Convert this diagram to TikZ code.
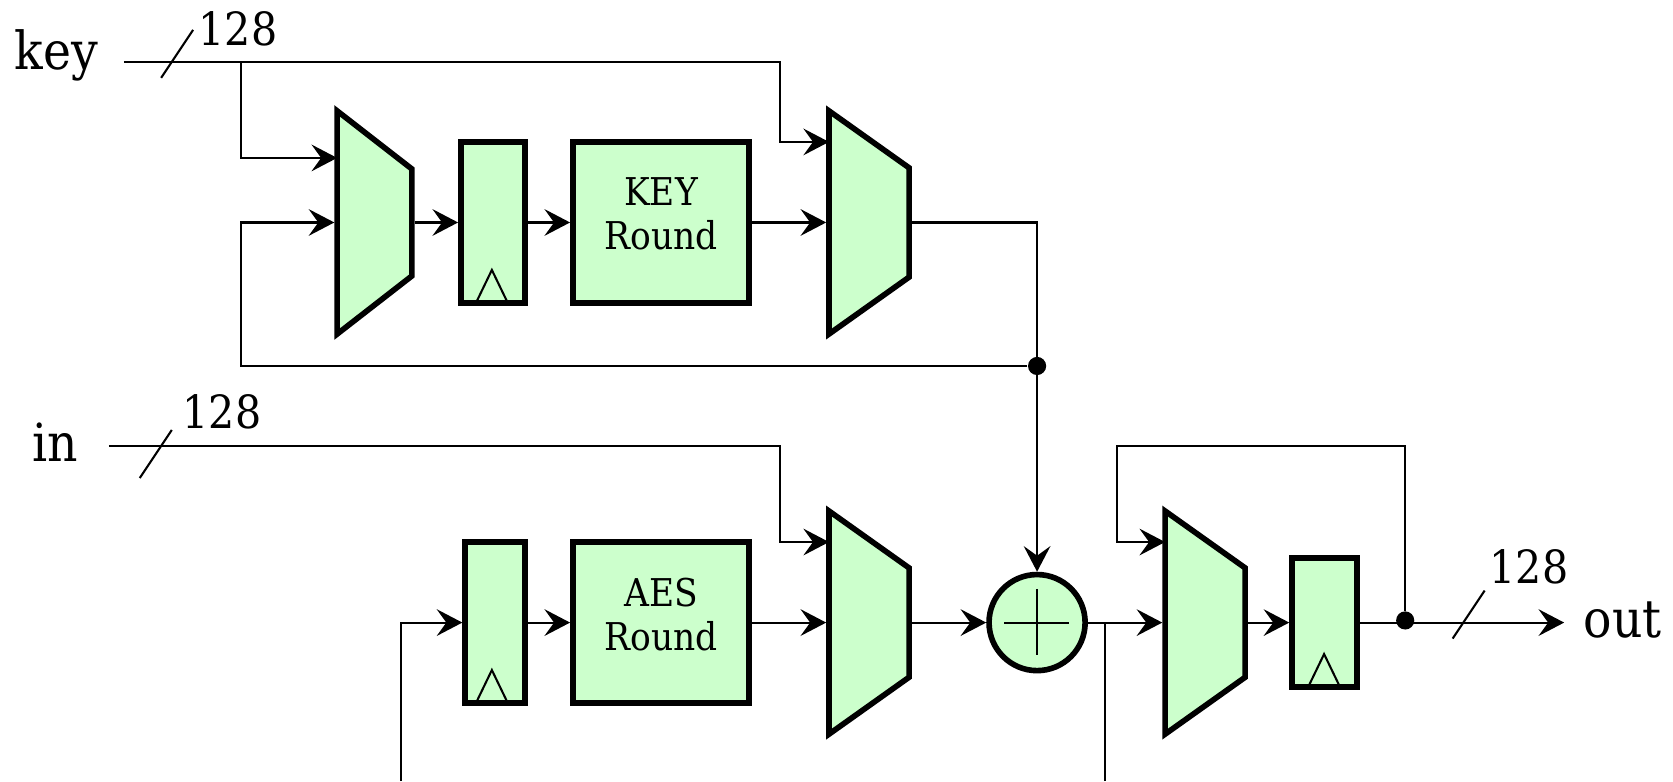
\documentclass[tikz,border=0pt]{standalone}
\usepackage{amsmath}
\usepackage{fontspec}
\setmainfont{DejaVu Serif Condensed}
\usetikzlibrary{shapes.geometric}
\usetikzlibrary{arrows.meta}

\definecolor{boxgreen}{HTML}{CCFFCC}

\tikzset{
  block/.style = {draw, fill=boxgreen, line width=1.5pt, rectangle, inner sep=0pt, align=center, text depth=0.16cm,
                  font=\fontsize{10.2}{11.7}\selectfont},
  muxa/.style = {draw, fill=boxgreen, line width=1.5pt, trapezium, trapezium stretches=true, shape border rotate=270,
                 trapezium angle=61.5, minimum width=2.09cm, minimum height=0.70cm, inner sep=1pt},
  muxb/.style = {muxa, trapezium angle=62.5, minimum height=0.75cm},
  addr/.style = {draw, fill=boxgreen, line width=1.5pt, circle, minimum size=0.90cm, inner sep=0pt},
  dot/.style = {fill=black, circle, minimum size=0.17cm, inner sep=0pt},
  biglabel/.style = {font=\fontsize{14}{16}\selectfont, inner sep=0pt},
  widthlabel/.style = {font=\fontsize{12.2}{15}\selectfont, inner sep=0pt},
  wire/.style = {line width=0.55pt},
  arr/.style = {wire, arrows = -{Stealth[length=2.4mm,width=2.5mm,inset=0.9mm]}}
}

\begin{document}
\begin{tikzpicture}[x=0.01cm,y=-0.01cm]

    \useasboundingbox (0,0) rectangle (1568,732);

    %\draw [help lines] (0,0) grid (1568,732);

    \path   (351,208.5) node (muxk) [muxa] {}
            (462,208.5) node (regk) [block,minimum width=0.60cm,minimum height=1.51cm] {}
            (619.5,208.5) node (keyround) [block,minimum width=1.65cm,minimum height=1.51cm] {KEY\\Round}
            (814.5,208.5) node (muxs) [muxb] {}
            (464,583.5) node (rega) [block,minimum width=0.56cm,minimum height=1.51cm] {}
            (619.5,583.5) node (aesround) [block,minimum width=1.65cm,minimum height=1.51cm] {AES\\Round}
            (814.5,583.5) node (muxi) [muxb] {}
            (972,583.5) node (xor) [addr] {}
            (1129.5,583.5) node (muxo) [muxb] {}
            (1241.5,583.5) node (rego) [block,minimum width=0.61cm,minimum height=1.21cm] {}
            (972,343) node (dotk) [dot] {}
            (1317,581.5) node (doto) [dot] {};

    \path   (53,52) node (keylabel) [biglabel] {key}
            (52,414) node (inlabel) [biglabel] {in}
            (1521,581) node (outlabel) [biglabel] {out}
            (223,27) node (widthk) [widthlabel] {128}
            (208,386) node (widthi) [widthlabel] {128}
            (1433,531) node (widtho) [widthlabel] {128};

    \coordinate (keyin) at (116,58);
    \coordinate (datain) at (102,418);
    \coordinate (dataout) at (1466,583.5);
    \coordinate (keytap) at (226,58);
    \coordinate (pinka) at (316,148);
    \coordinate (pinsa) at (777,133);
    \coordinate (pinia) at (777,508);
    \coordinate (pinoa) at (1092,508);
    \coordinate (backa) at (376,732);
    \coordinate (backb) at (1036,732);

    \draw[arr] (keyin) -- (731,58) |- (pinsa);
    \draw[arr] (keytap) |- (pinka);
    \draw[arr] (dotk) -- (226,343) |- (muxk.west);
    \draw[arr] (muxk.east) -- (regk.west);
    \draw[arr] (regk.east) -- (keyround.west);
    \draw[arr] (keyround.east) -- (muxs.west);
    \draw[arr] (muxs.east) -| (xor.north);
    \draw[arr] (datain) -- (731,418) |- (pinia);
    \draw[arr] (backa) |- (rega.west);
    \draw[arr] (rega.east) -- (aesround.west);
    \draw[arr] (aesround.east) -- (muxi.west);
    \draw[arr] (muxi.east) -- (xor.west);
    \draw[arr] (xor.east) -- (muxo.west);
    \draw[wire] (backb) -- (1036,583.5);
    \draw[arr] (muxo.east) -- (rego.west);
    \draw[arr] (rego.east) -- (dataout);
    \draw[arr] (doto) -- (1317,418) -- (1047,418) |- (pinoa);

    % plus sign
    \draw[wire] (941,583.5) -- (1002,583.5);
    \draw[wire] (972,552) -- (972,614);

    % clock marks
    \foreach \x/\y in {461/282, 461/657, 1241/642}
        \draw[wire] (\x-14,\y) -- (\x,\y-29) -- (\x+14,\y);

    % bus width marks
    \foreach \x/\y in {166/50.5, 146/425.5, 1376.5/576}
        \draw[wire] (\x-15,\y+22.5) -- (\x+15,\y-22.5);

\end{tikzpicture}
\end{document}
